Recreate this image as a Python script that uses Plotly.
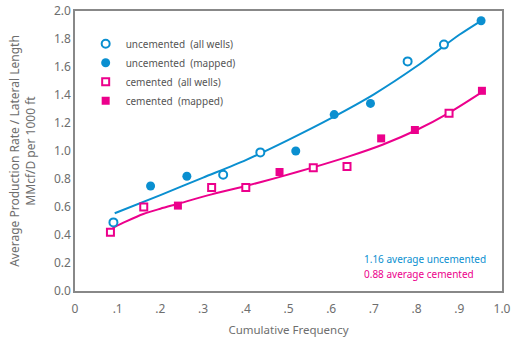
import plotly.graph_objects as go

BLUE = "#0a8fd0"
PINK = "#ec008c"

unc_all_x = [0.090, 0.347, 0.434, 0.779, 0.864]
unc_all_y = [0.49, 0.83, 0.99, 1.64, 1.76]
unc_map_x = [0.177, 0.262, 0.517, 0.607, 0.692, 0.951]
unc_map_y = [0.75, 0.82, 1.00, 1.26, 1.34, 1.93]
cem_all_x = [0.083, 0.161, 0.320, 0.400, 0.558, 0.637, 0.876]
cem_all_y = [0.42, 0.60, 0.74, 0.74, 0.88, 0.89, 1.27]
cem_map_x = [0.241, 0.479, 0.717, 0.796, 0.953]
cem_map_y = [0.61, 0.85, 1.09, 1.15, 1.43]

unc_fit_x = [0.093, 0.2, 0.3, 0.4, 0.5, 0.6, 0.7, 0.8, 0.9, 0.951]
unc_fit_y = [0.555, 0.685, 0.81, 0.935, 1.08, 1.235, 1.405, 1.605, 1.83, 1.93]
cem_fit_x = [0.088, 0.12, 0.16, 0.20, 0.24, 0.32, 0.40, 0.48, 0.56, 0.64, 0.72, 0.80, 0.88, 0.953]
cem_fit_y = [0.45, 0.497, 0.55, 0.588, 0.622, 0.69, 0.75, 0.815, 0.885, 0.96, 1.045, 1.15, 1.28, 1.42]

x_tickvals = [0, 0.1, 0.2, 0.3, 0.4, 0.5, 0.6, 0.7, 0.8, 0.9, 1.0]
x_ticktext = ["0", ".1", ".2", ".3", ".4", ".5", ".6", ".7", ".8", ".9", "1.0"]
y_tickvals = [0, 0.2, 0.4, 0.6, 0.8, 1.0, 1.2, 1.4, 1.6, 1.8, 2.0]

FONT = "Noto Sans"
GREY = "#6e6e6e"

fig = go.Figure()
fig.add_trace(go.Scatter(x=unc_fit_x, y=unc_fit_y, mode="lines",
                         line=dict(color=BLUE, width=2, shape="spline", smoothing=0.8),
                         showlegend=False, hoverinfo="skip"))
fig.add_trace(go.Scatter(x=cem_fit_x, y=cem_fit_y, mode="lines",
                         line=dict(color=PINK, width=2, shape="spline", smoothing=0.8),
                         showlegend=False, hoverinfo="skip"))
fig.add_trace(go.Scatter(x=unc_all_x, y=unc_all_y, mode="markers", name="uncemented  (all wells)",
                         marker=dict(symbol="circle", size=8, color="white", line=dict(color=BLUE, width=2))))
fig.add_trace(go.Scatter(x=unc_map_x, y=unc_map_y, mode="markers", name="uncemented  (mapped)",
                         marker=dict(symbol="circle", size=9, color=BLUE, line=dict(color=BLUE, width=0))))
fig.add_trace(go.Scatter(x=cem_all_x, y=cem_all_y, mode="markers", name="cemented  (all wells)",
                         marker=dict(symbol="square", size=7, color="white", line=dict(color=PINK, width=2))))
fig.add_trace(go.Scatter(x=cem_map_x, y=cem_map_y, mode="markers", name="cemented  (mapped)",
                         marker=dict(symbol="square", size=8, color=PINK, line=dict(color=PINK, width=0))))

fig.add_annotation(x=0.673, y=0.23, xref="x", yref="y", text="1.16 average uncemented", showarrow=False,
                   xanchor="left", font=dict(color=BLUE, size=10, family=FONT))
fig.add_annotation(x=0.673, y=0.12, xref="x", yref="y", text="0.88 average cemented", showarrow=False,
                   xanchor="left", font=dict(color=PINK, size=10, family=FONT))

fig.update_layout(
    width=512, height=342,
    margin=dict(l=75, r=10, t=11, b=51),
    paper_bgcolor="white", plot_bgcolor="white",
    font=dict(family=FONT, size=11, color=GREY),
    hovermode=False,
    legend=dict(x=0.025, y=0.935, xanchor="left", yanchor="top", bgcolor="rgba(0,0,0,0)",
                font=dict(size=10, color="#555555", family=FONT), itemsizing="trace",
                tracegroupgap=0, itemwidth=30),
)
fig.update_xaxes(range=[0, 1.0], tickvals=x_tickvals, ticktext=x_ticktext, showgrid=False, zeroline=False,
                 showline=True, linecolor="#888888", linewidth=1.5, mirror=True, ticks="outside",
                 ticklen=6, tickcolor="rgba(0,0,0,0)", automargin=False,
                 tickfont=dict(size=12, color=GREY),
                 title=dict(text="Cumulative Frequency", font=dict(size=11.5, color=GREY), standoff=10))
fig.update_yaxes(range=[0, 2.0], tickvals=y_tickvals, tickformat=".1f", showgrid=False, zeroline=False,
                 showline=True, linecolor="#888888", linewidth=1.5, mirror=True, ticks="", automargin=False,
                 tickfont=dict(size=12, color=GREY),
                 title=dict(text="Average Production Rate / Lateral Length<br>MMcf/D per 1000 ft",
                            font=dict(size=12, color=GREY), standoff=16))

fig.write_html("out.html", config={"displayModeBar": False},
               post_script="document.body.style.margin='0';document.body.style.overflow='hidden';")
